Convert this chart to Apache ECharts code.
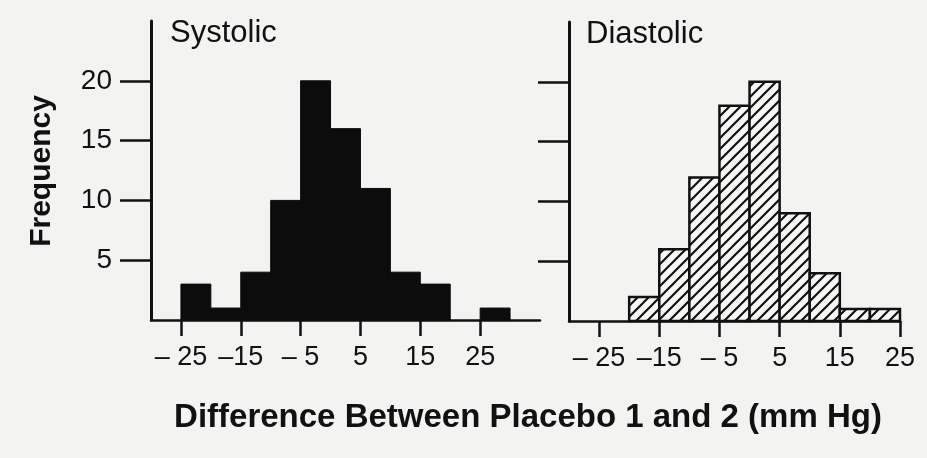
<!DOCTYPE html>
<html>
<head>
<meta charset="utf-8">
<script src="https://cdn.jsdelivr.net/npm/echarts@6/dist/echarts.min.js"></script>
<style>
  html, body { margin: 0; padding: 0; background: #f3f3f1; }
  #chart { width: 927px; height: 458px; }
</style>
</head>
<body>
<div id="chart"></div>
<script>
// Histograms of the placebo 1 - placebo 2 differences, 5 mm Hg bins
const binWidth = 5;
const systolicBinStart = [-25, -20, -15, -10, -5, 0, 5, 10, 15, 20, 25];
const systolicFreq     = [3, 1, 4, 10, 20, 16, 11, 4, 3, 0, 1];
const diastolicBinStart = [-20, -15, -10, -5, 0, 5, 10, 15, 20];
const diastolicFreq     = [2, 6, 12, 18, 20, 9, 4, 1, 1];

const xTickValues = [-25, -15, -5, 5, 15, 25];
const xTickLabels = ['\u2013 25', '\u201315', '\u2013 5', '5', '15', '25'];
const yTickValues = [5, 10, 15, 20];

const panelTitles = ['Systolic', 'Diastolic'];
const yTitle = 'Frequency';
const xTitle = 'Difference Between Placebo 1 and 2 (mm Hg)';

const ink = '#111111';
const fontFamily = '"Liberation Sans", Arial, Helvetica, sans-serif';

function toBins(starts, freq) {
  return starts.map((s, i) => [s, s + binWidth, freq[i]]);
}

// diagonal hatch tile for the diastolic bars
function hatchPattern() {
  const s = 11;
  const c = document.createElement('canvas');
  c.width = s; c.height = s;
  const ctx = c.getContext('2d');
  ctx.fillStyle = '#f7f7f5';
  ctx.fillRect(0, 0, s, s);
  ctx.strokeStyle = ink;
  ctx.lineWidth = 2.2;
  ctx.beginPath();
  ctx.moveTo(-s / 2, s / 2); ctx.lineTo(s / 2, -s / 2);
  ctx.moveTo(0, s); ctx.lineTo(s, 0);
  ctx.moveTo(s / 2, s * 1.5); ctx.lineTo(s * 1.5, s / 2);
  ctx.stroke();
  return { image: c, repeat: 'repeat' };
}

function histRenderer(style) {
  return function (params, api) {
    const lo = api.value(0), hi = api.value(1), n = api.value(2);
    if (!n) return null;
    const p0 = api.coord([lo, n]);
    const p1 = api.coord([hi, 0]);
    return {
      type: 'rect',
      shape: { x: p0[0], y: p0[1], width: p1[0] - p0[0], height: p1[1] - p0[1] },
      style: style
    };
  };
}

function xAxisFor(gridIndex, max) {
  return {
    type: 'value', gridIndex: gridIndex, min: -30, max: max,
    splitLine: { show: false },
    axisLine: { show: true, onZero: false, lineStyle: { color: ink, width: 2.5 } },
    axisTick: { show: true, length: 16, customValues: xTickValues, lineStyle: { color: ink, width: 2.5 } },
    axisLabel: {
      show: true, customValues: xTickValues, margin: 24,
      color: ink, fontSize: 27, fontFamily: fontFamily,
      formatter: v => xTickLabels[xTickValues.indexOf(v)]
    }
  };
}

function yAxisFor(gridIndex, showLabels) {
  return {
    type: 'value', gridIndex: gridIndex, min: 0, max: 25,
    splitLine: { show: false },
    axisLine: { show: true, onZero: false, lineStyle: { color: ink, width: 3 } },
    axisTick: { show: true, length: 31, customValues: yTickValues, lineStyle: { color: ink, width: 2.5 } },
    axisLabel: {
      show: showLabels, customValues: yTickValues, margin: 39,
      color: ink, fontSize: 28, fontFamily: fontFamily
    }
  };
}

const chart = echarts.init(document.getElementById('chart'), null, { renderer: 'canvas' });

chart.setOption({
  backgroundColor: '#f3f3f1',
  animation: false,
  grid: [
    { left: 151, top: 21, width: 389, height: 299 },
    { left: 569, top: 22, width: 331, height: 299 }
  ],
  xAxis: [xAxisFor(0, 35), xAxisFor(1, 25)],
  yAxis: [yAxisFor(0, true), yAxisFor(1, false)],
  series: [
    {
      type: 'custom', xAxisIndex: 0, yAxisIndex: 0,
      encode: { x: [0, 1], y: 2 },
      data: toBins(systolicBinStart, systolicFreq),
      renderItem: histRenderer({ fill: '#0c0c0c', stroke: '#0c0c0c', lineWidth: 1 })
    },
    {
      type: 'custom', xAxisIndex: 1, yAxisIndex: 1,
      encode: { x: [0, 1], y: 2 },
      data: toBins(diastolicBinStart, diastolicFreq),
      renderItem: histRenderer({ fill: hatchPattern(), stroke: ink, lineWidth: 2.5 })
    }
  ],
  graphic: [
    {
      type: 'text', left: 170, top: 18,
      style: { text: panelTitles[0], fill: ink, font: '31px ' + fontFamily }
    },
    {
      type: 'text', left: 586, top: 19,
      style: { text: panelTitles[1], fill: ink, font: '31px ' + fontFamily }
    },
    {
      type: 'text', x: 42, y: 171, rotation: Math.PI / 2,
      style: {
        text: yTitle, fill: ink, font: 'bold 30px ' + fontFamily,
        align: 'center', verticalAlign: 'middle'
      }
    },
    {
      type: 'text', x: 528, y: 418,
      style: {
        text: xTitle, fill: ink, font: 'bold 33px ' + fontFamily,
        align: 'center', verticalAlign: 'middle'
      }
    }
  ]
});
</script>
</body>
</html>
